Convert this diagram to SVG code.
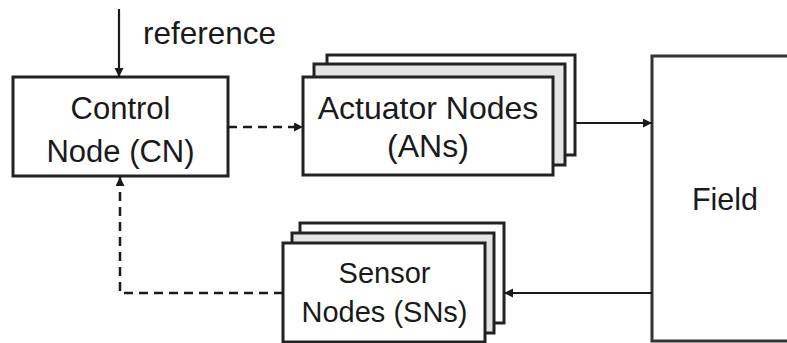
<svg xmlns="http://www.w3.org/2000/svg" width="787" height="343" viewBox="0 0 787 343">
  <style>
    .box { fill: #ffffff; stroke: #222222; stroke-width: 3; }
    .mid { fill: #e4e4e4; stroke: #222222; stroke-width: 3; }
    .field { fill: #ffffff; stroke: #333333; stroke-width: 3; }
    .label { font-family: "Liberation Sans", Arial, sans-serif; fill: #1a1a1a; text-anchor: middle; }
    .wire { fill: none; stroke: #1a1a1a; stroke-width: 2.2; }
    .dash { stroke-dasharray: 9 6; stroke-width: 2.5; }
  </style>
  <defs>
    <marker id="arrow" markerUnits="userSpaceOnUse" markerWidth="10" markerHeight="10" refX="9" refY="4.5" orient="auto">
      <path d="M0,0 L9,4.5 L0,9 z" fill="#1a1a1a"/>
    </marker>
  </defs>
  <rect width="787" height="343" fill="#ffffff"/>

  <!-- Field -->
  <g id="field">
    <rect class="field" x="652" y="56" width="200" height="285"/>
    <text class="label" x="725" y="210" font-size="30.5">Field</text>
  </g>

  <!-- Control Node -->
  <g id="control-node">
    <rect class="box" x="13" y="77" width="215" height="99"/>
    <text class="label" x="120.5" y="119" font-size="31">Control</text>
    <text class="label" x="120.5" y="162" font-size="31">Node (CN)</text>
  </g>

  <!-- Actuator Nodes (stacked) -->
  <g id="actuator-nodes">
    <rect class="box" x="327" y="55" width="248" height="100"/>
    <rect class="mid" x="314" y="64" width="251" height="101"/>
    <rect class="box" x="303" y="77" width="250" height="98"/>
    <text class="label" x="428" y="119" font-size="32">Actuator Nodes</text>
    <text class="label" x="428" y="157" font-size="32">(ANs)</text>
  </g>

  <!-- Sensor Nodes (stacked) -->
  <g id="sensor-nodes">
    <rect class="box" x="300" y="223" width="204" height="100"/>
    <rect class="mid" x="292" y="233" width="202" height="100"/>
    <rect class="box" x="283" y="243" width="202" height="99"/>
    <text class="label" x="384.5" y="283" font-size="29">Sensor</text>
    <text class="label" x="384.5" y="322" font-size="29">Nodes (SNs)</text>
  </g>

  <!-- reference input label -->
  <text id="reference-label" x="143" y="44" font-size="31.5" font-family="Liberation Sans, Arial, sans-serif" fill="#1a1a1a">reference</text>

  <!-- Connectors -->
  <g id="connectors">
    <path class="wire" d="M119,9 L119,77" marker-end="url(#arrow)"/>
    <path class="wire dash" d="M228,127 L303,127" marker-end="url(#arrow)"/>
    <path class="wire" d="M575,123 L652,123" marker-end="url(#arrow)"/>
    <path class="wire" d="M652,293 L504,293" marker-end="url(#arrow)"/>
    <path class="wire dash" d="M283,293 L120,293 L120,177" marker-end="url(#arrow)"/>
  </g>
</svg>
